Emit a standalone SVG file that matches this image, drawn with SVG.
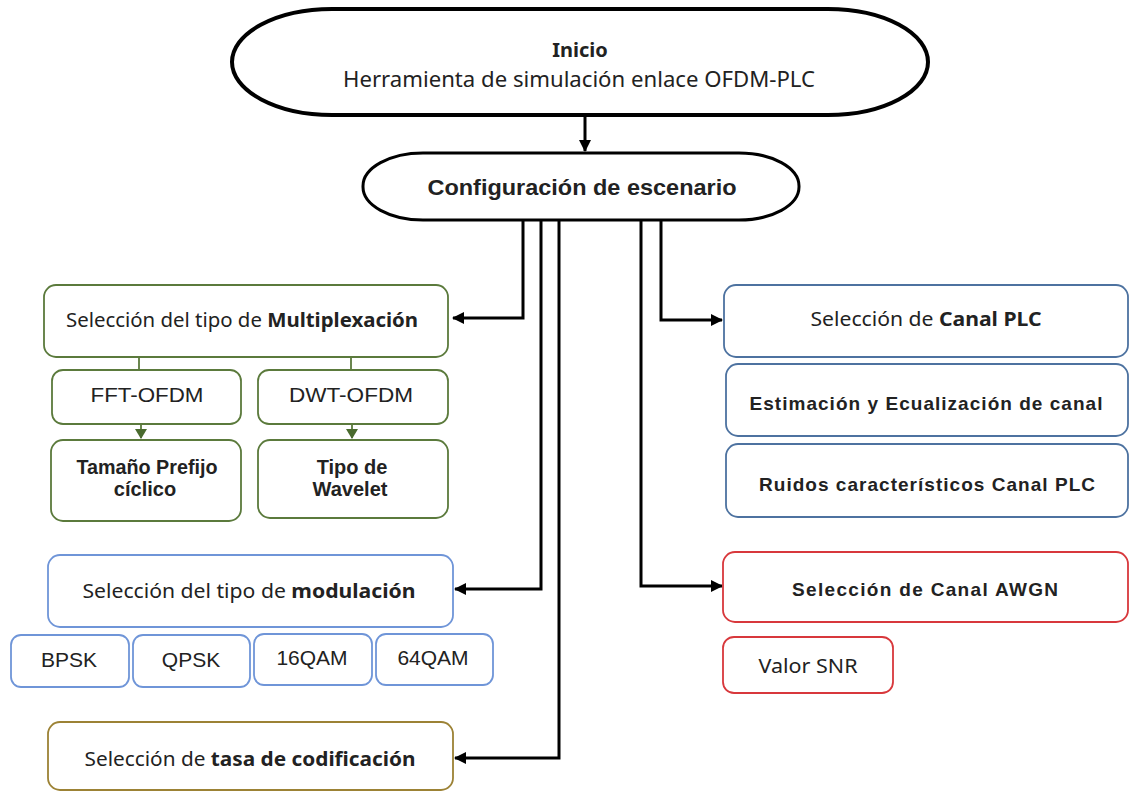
<svg xmlns="http://www.w3.org/2000/svg" width="1130" height="793" viewBox="0 0 1130 793">
<style>
.ub{font-family:"Noto Sans","Open Sans",sans-serif;fill:#222}
.ar{font-family:"Liberation Sans",Arial,sans-serif;fill:#222}
.b{font-weight:bold}
.box{fill:#fff;stroke-width:1.8}
.g{stroke:#5b7a3c}
.bl{stroke:#6f95d8}
.sb{stroke:#4d72a0}
.rd{stroke:#d8383c}
.tn{stroke:#9c8235}
.con{fill:none;stroke:#000;stroke-width:3}
.gcon{fill:none;stroke:#5b7a3c;stroke-width:1.8}
</style>
<defs>
<marker id="ah" markerUnits="userSpaceOnUse" markerWidth="14" markerHeight="14" refX="11" refY="6" orient="auto">
<path d="M0,0 L12,6 L0,12 z" fill="#000"/>
</marker>
<marker id="gh" markerUnits="userSpaceOnUse" markerWidth="14" markerHeight="14" refX="9" refY="6" orient="auto">
<path d="M0,0 L10,6 L0,12 z" fill="#4a6b2e"/>
</marker>
</defs>
<rect width="1130" height="793" fill="#fff"/>
<g id="connectors">
<path class="con" d="M585,115 V151" marker-end="url(#ah)"/>
<path class="con" d="M523,219 V318 H453" marker-end="url(#ah)"/>
<path class="con" d="M541,219 V589 H455" marker-end="url(#ah)"/>
<path class="con" d="M559,219 V758 H455" marker-end="url(#ah)"/>
<path class="con" d="M661,219 V320 H722" marker-end="url(#ah)"/>
<path class="con" d="M641,219 V586 H722" marker-end="url(#ah)"/>
<path class="gcon" d="M139,357 V370"/>
<path class="gcon" d="M351,357 V370"/>
<path class="gcon" d="M141,424 V438" marker-end="url(#gh)"/>
<path class="gcon" d="M352,424 V438" marker-end="url(#gh)"/>
</g>
<g id="inicio">
<rect x="232" y="9" width="696" height="106" rx="100" ry="53" fill="#fff" stroke="#000" stroke-width="4"/>
<text class="ub b" x="580" y="57" font-size="20" text-anchor="middle">Inicio</text>
<text class="ub" x="579" y="87" font-size="21" text-anchor="middle" textLength="472" lengthAdjust="spacingAndGlyphs">Herramienta de simulación enlace OFDM-PLC</text>
</g>
<g id="config">
<rect x="363" y="153" width="436" height="67" rx="60" ry="33" fill="#fff" stroke="#000" stroke-width="3"/>
<text class="ar b" x="582" y="195" font-size="22" text-anchor="middle" textLength="309" lengthAdjust="spacingAndGlyphs">Configuración de escenario</text>
</g>
<g id="multiplexacion">
<rect class="box g" x="44" y="285" width="404" height="72" rx="12"/>
<text class="ub" x="242" y="327" font-size="20" text-anchor="middle" textLength="352" lengthAdjust="spacingAndGlyphs">Selección del tipo de <tspan class="b">Multiplexación</tspan></text>
</g>
<g id="fft">
<rect class="box g" x="52" y="370" width="189" height="54" rx="11"/>
<text class="ar" x="147" y="402" font-size="21" text-anchor="middle" textLength="113" lengthAdjust="spacingAndGlyphs">FFT-OFDM</text>
</g>
<g id="dwt">
<rect class="box g" x="258" y="370" width="190" height="54" rx="11"/>
<text class="ar" x="351" y="402" font-size="21" text-anchor="middle" textLength="124" lengthAdjust="spacingAndGlyphs">DWT-OFDM</text>
</g>
<g id="prefijo">
<rect class="box g" x="51" y="440" width="190" height="81" rx="12"/>
<text class="ar b" x="147" y="474" font-size="20" text-anchor="middle" textLength="141" lengthAdjust="spacingAndGlyphs">Tamaño Prefijo</text>
<text class="ar b" x="145" y="496" font-size="20" text-anchor="middle">cíclico</text>
</g>
<g id="wavelet">
<rect class="box g" x="258" y="440" width="190" height="78" rx="12"/>
<text class="ar b" x="352" y="474" font-size="20" text-anchor="middle">Tipo de</text>
<text class="ar b" x="350" y="496" font-size="20" text-anchor="middle">Wavelet</text>
</g>
<g id="modulacion">
<rect class="box bl" x="48" y="555" width="405" height="72" rx="12"/>
<text class="ub" x="249" y="598" font-size="19" text-anchor="middle" textLength="333" lengthAdjust="spacingAndGlyphs">Selección del tipo de <tspan class="b">modulación</tspan></text>
</g>
<g id="bpsk">
<rect class="box bl" x="11" y="635" width="118" height="52" rx="10"/>
<text class="ar" x="69" y="667" font-size="21" text-anchor="middle">BPSK</text>
</g>
<g id="qpsk">
<rect class="box bl" x="133" y="635" width="117" height="52" rx="10"/>
<text class="ar" x="191" y="667" font-size="21" text-anchor="middle">QPSK</text>
</g>
<g id="qam16">
<rect class="box bl" x="254" y="634" width="118" height="51" rx="10"/>
<text class="ar" x="312" y="665" font-size="21" text-anchor="middle">16QAM</text>
</g>
<g id="qam64">
<rect class="box bl" x="376" y="634" width="117" height="51" rx="10"/>
<text class="ar" x="433" y="665" font-size="21" text-anchor="middle">64QAM</text>
</g>
<g id="tasa">
<rect class="box tn" x="48" y="722" width="405" height="68" rx="12"/>
<text class="ub" x="250" y="766" font-size="19" text-anchor="middle" textLength="331" lengthAdjust="spacingAndGlyphs">Selección de <tspan class="b">tasa de codificación</tspan></text>
</g>
<g id="canalplc">
<rect class="box sb" x="724" y="285" width="404" height="72" rx="12"/>
<text class="ub" x="926" y="326" font-size="19" text-anchor="middle" textLength="231" lengthAdjust="spacingAndGlyphs">Selección de <tspan class="b">Canal PLC</tspan></text>
</g>
<g id="estimacion">
<rect class="box sb" x="726" y="364" width="402" height="72" rx="12"/>
<text class="ar b" x="926" y="410" font-size="19" text-anchor="middle" textLength="353">Estimación y Ecualización de canal</text>
</g>
<g id="ruidos">
<rect class="box sb" x="726" y="444" width="402" height="73" rx="12"/>
<text class="ar b" x="927" y="491" font-size="19" text-anchor="middle" textLength="336">Ruidos característicos Canal PLC</text>
</g>
<g id="awgn">
<rect class="box rd" x="723" y="552" width="405" height="70" rx="12"/>
<text class="ar b" x="925" y="596" font-size="19" text-anchor="middle" textLength="266">Selección de Canal AWGN</text>
</g>
<g id="snr">
<rect class="box rd" x="723" y="637" width="170" height="56" rx="11"/>
<text class="ub" x="808" y="673" font-size="19" text-anchor="middle" textLength="99" lengthAdjust="spacingAndGlyphs">Valor SNR</text>
</g>
</svg>
